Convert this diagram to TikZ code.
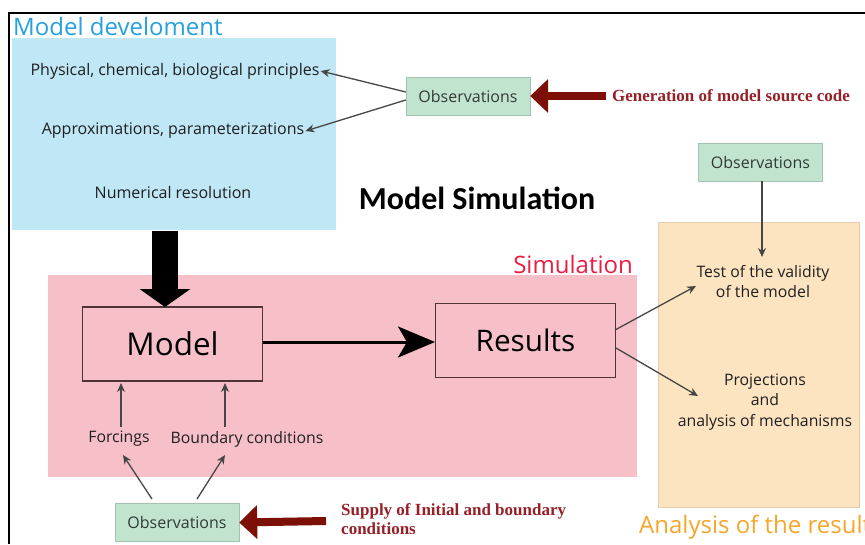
\documentclass[tikz,border=0pt]{standalone}
\usepackage{fontspec}
\setmainfont{Open Sans}
\newfontfamily\headfont{Carlito}
\newfontfamily\notefont{Liberation Serif}
\usetikzlibrary{arrows.meta}

\definecolor{devblue}{RGB}{192,231,246}
\definecolor{devtitle}{RGB}{38,160,222}
\definecolor{obsgreen}{RGB}{193,228,207}
\definecolor{obstext}{RGB}{50,58,54}
\definecolor{simpink}{RGB}{247,192,200}
\definecolor{simred}{RGB}{232,30,68}
\definecolor{anaorange}{RGB}{252,228,193}
\definecolor{anatitle}{RGB}{246,166,42}
\definecolor{supplyred}{RGB}{124,16,6}
\definecolor{notered}{RGB}{150,32,40}
\definecolor{thinline}{RGB}{70,70,70}
\definecolor{boxline}{RGB}{78,52,52}

\tikzset{
  x=1pt, y=-1pt,
  panel/.style={anchor=north west, inner sep=0pt, outer sep=0pt},
  obsbox/.style={fill=obsgreen, draw=obsgreen!85!black, line width=0.4pt,
    minimum width=124pt, minimum height=38pt, inner sep=0pt,
    font=\fontsize{16}{17}\selectfont, text=obstext},
  item/.style={font=\fontsize{16}{20}\selectfont, text=black!88, align=center, inner sep=1pt},
  bigbox/.style={draw=boxline, line width=1.6pt, minimum width=180pt, minimum height=74pt,
    inner sep=0pt, font=\fontsize{31.4}{34}\selectfont},
  thin/.style={draw=thinline, line width=1.3pt, -{Stealth[length=9pt,width=8pt]}},
  supply/.style={draw=supplyred, line width=8pt, -{Triangle[length=18pt,width=33pt]}},
  note/.style={font=\notefont\bfseries\fontsize{17}{19}\selectfont, text=notered, align=left, inner sep=0pt},
  paneltitle/.style={inner sep=0pt, font=\fontsize{24}{26}\selectfont},
}

\begin{document}
\begin{tikzpicture}
\useasboundingbox (0,0) rectangle (865,544);

% frame
\coordinate (frameR) at (865,13);
\coordinate (frameC) at (9,13);
\coordinate (frameB) at (9,544);
\draw[line width=1.6pt] (frameR) -- (frameC) -- (frameB);

% model development panel
\node[panel, fill=devblue, minimum width=324pt, minimum height=192pt] (dev) at (12,38) {};
\node[paneltitle, anchor=west, text=devtitle] (devtitle) at (13,26) {Model develoment};
\node[item] (phys) at (175,71) {Physical, chemical, biological principles};
\node[item] (approx) at (173,131) {Approximations, parameterizations};
\node[item] (num) at (173,192) {Numerical resolution};

% observations feeding the model principles
\node[obsbox] (obs1) at (468,96) {Observations};
\coordinate (o1a) at ([yshift=4pt]obs1.west);
\coordinate (o1b) at ([yshift=-4pt]obs1.west);
\draw[thin] (o1a) -- (phys.east);
\draw[thin] (o1b) -- (approx.east);

\node[note, anchor=west] (gen) at (612,96) {Generation of model source code};
\coordinate (genstart) at (606,96);
\draw[supply] (genstart) -- (obs1.east);

\node[font=\headfont\bfseries\fontsize{32}{34}\selectfont] (title) at (477,198) {Model Simulation};

% simulation panel
\node[panel, fill=simpink, minimum width=589pt, minimum height=202pt] (sim) at (48,275) {};
\node[paneltitle, anchor=east, text=simred] (simtitle) at (633,264) {Simulation};

\node[bigbox] (model) at (172.5,344) {Model};
\node[bigbox, font=\fontsize{29.7}{32}\selectfont] (results) at (525.5,340.5) {Results};

% development feeds the model
\coordinate (devout) at (165,231);
\coordinate (devin) at (165,307);
\draw[line width=26pt, -{Triangle[length=18pt,width=50pt]}] (devout) -- (devin);

\coordinate (mout) at (263,342);
\coordinate (rin) at (435,342);
\draw[line width=3pt, -{Stealth[length=37pt,width=31pt,inset=9pt]}] (mout) -- (rin);

\node[item, font=\fontsize{15.8}{18}\selectfont] (forc) at (119,439) {Forcings};
\node[item, font=\fontsize{15.8}{18}\selectfont] (bound) at (247,439) {Boundary conditions};
\coordinate (fup) at (121,427);
\coordinate (fhit) at (121,383);
\coordinate (bup) at (225,427);
\coordinate (bhit) at (225,383);
\draw[thin] (fup) -- (fhit);
\draw[thin] (bup) -- (bhit);

% observations supplying the boundary data
\node[obsbox] (obs2) at (177,522.5) {Observations};
\coordinate (o2a) at (152,499);
\coordinate (o2b) at (197,499);
\coordinate (fin) at (123,455);
\coordinate (bin) at (225,455);
\draw[thin] (o2a) -- (fin);
\draw[thin] (o2b) -- (bin);

\coordinate (supstart) at (326,521);
\draw[supply] (supstart) -- (obs2.east);
\node[note, anchor=west] (sup) at (341,519) {Supply of Initial and boundary\\conditions};

% analysis panel
\node[panel, fill=anaorange, draw=anaorange!90!black, line width=0.4pt, minimum width=201pt, minimum height=285pt] (ana) at (658,222) {};
\node[paneltitle, anchor=west, text=anatitle] (anatitle) at (639,527) {Analysis of the result};

\node[obsbox] (obs3) at (760.5,162) {Observations};
\node[item, font=\fontsize{15.8}{20}\selectfont] (test) at (763,282) {Test of the validity\\of the model};
\node[item, font=\fontsize{15.8}{20.5}\selectfont] (proj) at (765,402) {Projections\\and\\analysis of mechanisms};

\coordinate (o3) at (762,181);
\coordinate (testtop) at (762,257);
\draw[thin] (o3) -- (testtop);
\coordinate (r1) at (615,330);
\coordinate (r2) at (616,348);
\coordinate (t1) at (696,286);
\coordinate (p1) at (698,396);
\draw[thin] (r1) -- (t1);
\draw[thin] (r2) -- (p1);
\end{tikzpicture}
\end{document}
